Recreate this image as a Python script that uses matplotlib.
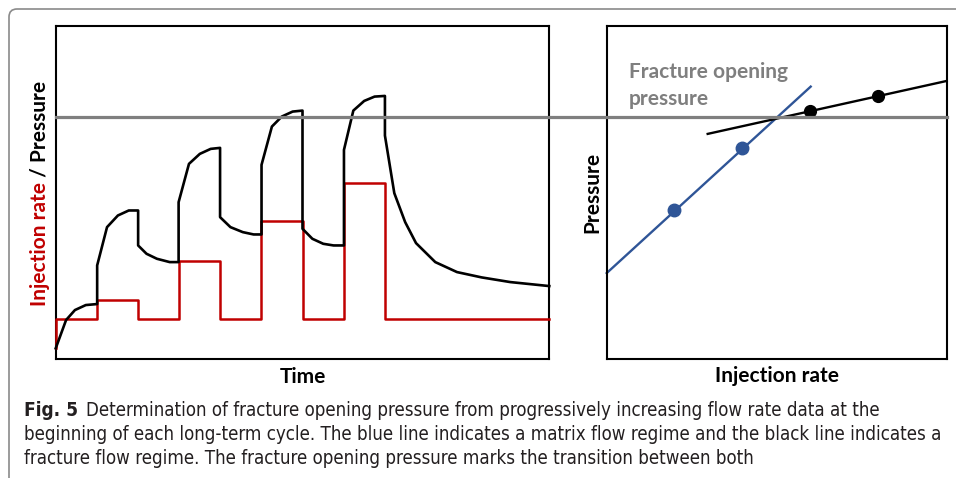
import matplotlib
matplotlib.use('Agg')
from matplotlib import pyplot as plt
from matplotlib import font_manager
from matplotlib.lines import Line2D
from matplotlib.patches import FancyBboxPatch
import matplotlib.transforms as mtransforms

# left panel: injection rate steps and pressure response (arbitrary units 0-100)
rate_t = [0, 0, 8.33, 16.67, 25.0, 33.33, 41.67, 50.0, 58.33, 66.67, 100]
rate_q = [3.2, 12.0, 17.7, 12.0, 29.3, 12.0, 41.3, 12.0, 53.0, 12.0, 12.0]

press_t = [0, 2.1, 3.9, 6.1, 8.4, 8.4, 10.4, 12.6, 14.8, 16.7, 16.7, 18.4, 20.5, 23.1,
           24.9, 24.9, 27.0, 29.2, 31.4, 33.3, 33.3, 35.4, 37.9, 40.1, 41.7, 41.7, 43.8,
           45.8, 48.0, 50.0, 50.0, 52.0, 54.2, 56.3, 58.4, 58.4, 60.3, 62.5, 64.6, 66.7,
           66.7, 68.6, 70.8, 73.0, 76.9, 81.3, 86.3, 92.1, 100]
press_p = [3.2, 11.7, 14.7, 16.2, 16.5, 28.1, 39.6, 43.1, 44.6, 44.6, 34.1, 31.6, 30.1, 29.1,
           29.1, 47.1, 58.6, 61.6, 63.1, 63.4, 42.6, 39.6, 38.1, 37.4, 37.4, 58.3, 69.8,
           72.8, 74.3, 74.6, 39.1, 36.1, 34.6, 34.1, 34.1, 62.8, 74.6, 77.5, 78.8, 79.0,
           67.1, 49.8, 41.1, 34.8, 29.1, 26.1, 24.5, 23.1, 21.9]

opening_p = 72.7

# right panel: pressure vs injection rate
matrix_line_x = [0, 60.0]
matrix_line_y = [25.8, 81.8]
matrix_pts_x = [19.9, 39.8]
matrix_pts_y = [44.8, 63.4]
frac_line_x = [29.7, 100]
frac_line_y = [67.6, 83.5]
frac_pts_x = [59.8, 79.9]
frac_pts_y = [74.6, 79.0]

caption = ["Determination of fracture opening pressure from progressively increasing flow rate data at the",
           "beginning of each long-term cycle. The blue line indicates a matrix flow regime and the black line indicates a",
           "fracture flow regime. The fracture opening pressure marks the transition between both"]

RED = '#c00000'
BLUE = '#2f5597'
GRAY = '#7f7f7f'
W, H = 956, 478
lab_font = 'Lato'
LS = 15

fig = plt.figure(figsize=(W / 100, H / 100), dpi=100)

def fx(px):
    return px / W

def fy(py):
    return 1 - py / H

ax1 = fig.add_axes([fx(55.7), fy(359), fx(549.3) - fx(55.7), fy(26) - fy(359)])
ax2 = fig.add_axes([fx(606.7), fy(359), fx(946.7) - fx(606.7), fy(26) - fy(359)])

for ax in (ax1, ax2):
    ax.set_xlim(0, 100)
    ax.set_ylim(0, 100)
    ax.set_xticks([])
    ax.set_yticks([])
    for s in ax.spines.values():
        s.set_linewidth(1.5)
        s.set_color('black')

ax1.plot(rate_t, rate_q, drawstyle='steps-post', color=RED, lw=1.8, clip_on=False, zorder=3)
ax1.plot(press_t, press_p, color='black', lw=1.9, clip_on=False, zorder=4)

ax2.plot(matrix_line_x, matrix_line_y, color=BLUE, lw=1.7, clip_on=False)
ax2.plot(matrix_pts_x, matrix_pts_y, 'o', color=BLUE, ms=9)
ax2.plot(frac_line_x, frac_line_y, color='black', lw=1.7, clip_on=False)
ax2.plot(frac_pts_x, frac_pts_y, 'o', color='black', ms=8.5)

# fracture opening pressure line across both panels
tr = mtransforms.blended_transform_factory(fig.transFigure, ax1.transData)
x0 = ax1.get_position().x0
x1 = ax2.get_position().x1
fig.add_artist(Line2D([x0, x1], [opening_p, opening_p], transform=tr, color=GRAY, lw=2.3, zorder=5))

ax2.text((629 - 606.7) / 340, (359 - 85.5) / 333, 'Fracture opening\npressure', transform=ax2.transAxes,
         ha='left', va='center', color=GRAY, fontsize=LS, fontweight='bold', family=lab_font,
         linespacing=1.4)

# axis labels
fig.text(fx(302.5), fy(377), 'Time', ha='center', va='center', fontsize=LS, fontweight='bold', family=lab_font)
fig.text(fx(776.7), fy(376), 'Injection rate', ha='center', va='center', fontsize=LS, fontweight='bold',
         family=lab_font)
fig.text(fx(592), fy(192.5), 'Pressure', rotation=90, ha='center', va='center', fontsize=LS,
         fontweight='bold', family=lab_font)
t1 = fig.text(fx(40), fy(306), 'Injection rate', rotation=90, ha='center', va='bottom', fontsize=LS,
              fontweight='bold', family=lab_font, color=RED)
fig.add_artist(plt.Annotation(' / Pressure', xy=(0.5, 1), xycoords=t1, rotation=90, ha='center',
                              va='bottom', fontsize=LS, fontweight='bold', family=lab_font))

# rounded frame
frame = FancyBboxPatch((9, -30), 1100, H - 9 + 30, boxstyle='round,pad=0,rounding_size=8',
                       transform=mtransforms.IdentityTransform(), fill=False, ec='#8a8a8a', lw=1.2)
fig.add_artist(frame)

# caption
names = {f.name for f in font_manager.fontManager.ttflist}
if 'Liberation Sans Narrow' in names:
    cap_family, cap_stretch = 'Liberation Sans Narrow', 'normal'
else:
    cap_family, cap_stretch = 'DejaVu Sans', 'condensed'

cap_size = 14
r = fig.canvas.get_renderer()
probe = fig.text(0, 0, caption[1], fontsize=cap_size, family=cap_family, stretch=cap_stretch)
wpx = probe.get_window_extent(r).width
probe.remove()
cap_size = cap_size * 924 / wpx

cap_col = '#231f20'
figlab = fig.text(fx(24), fy(416), 'Fig. 5', fontsize=cap_size * 1.02, family=cap_family,
                  stretch=cap_stretch, fontweight='bold', va='baseline', color=cap_col)
lw_px = figlab.get_window_extent(r).width
fig.text(fx(24 + lw_px + 8), fy(416), caption[0], fontsize=cap_size, family=cap_family,
         stretch=cap_stretch, va='baseline', color=cap_col)
fig.text(fx(24), fy(440), caption[1], fontsize=cap_size, family=cap_family, stretch=cap_stretch,
         va='baseline', color=cap_col)
fig.text(fx(24), fy(464), caption[2], fontsize=cap_size, family=cap_family, stretch=cap_stretch,
         va='baseline', color=cap_col)

plt.savefig('out.png', dpi=100)
